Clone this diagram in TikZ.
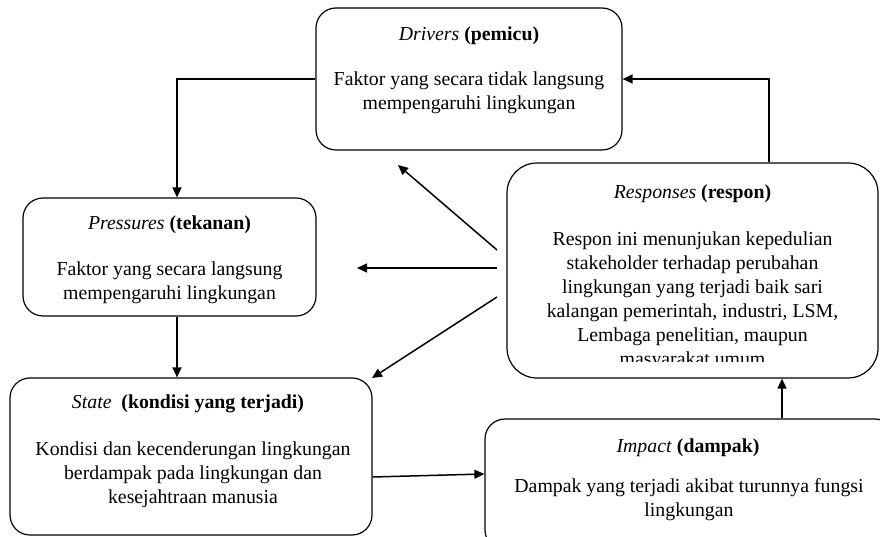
\documentclass[tikz,border=0pt]{standalone}
\usepackage{fontspec}
\setmainfont{Liberation Serif}
\usetikzlibrary{arrows.meta}
\begin{document}
\begin{tikzpicture}[x=1pt,y=1pt,
  box/.style={draw, line width=1.2pt, rounded corners=20pt, inner sep=0pt},
  txt/.style={font=\fontsize{19.8}{23.9}\selectfont, align=center, inner sep=0pt, anchor=north},
  ttl/.style={font=\fontsize{19.8}{23.9}\selectfont, inner sep=0pt, anchor=base},
  arr/.style={line width=1.5pt, -{Triangle[length=10pt,width=9pt]}}]
\useasboundingbox (0,0) rectangle (880,537);
% boxes
\node[box, minimum width=306pt, minimum height=142pt] (drivers) at (469,458) {};
\node[box, minimum width=293pt, minimum height=118pt] (pressures) at (169.5,280) {};
\node[box, minimum width=362pt, minimum height=157pt] (state) at (191,80.5) {};
\node[box, rounded corners=30pt, minimum width=371pt, minimum height=215pt] (responses) at (692.5,266.5) {};
\node[box, minimum width=410pt, minimum height=131pt] (impact) at (690,52.5) {};
% texts
\node[ttl] (drivT) at (469,496) {\textit{Drivers} \textbf{(pemicu)}};
\node[txt] (drivB) at (469,465) {Faktor yang secara tidak langsung\\mempengaruhi lingkungan};
\node[ttl] (presT) at (169.5,307) {\textit{Pressures} \textbf{(tekanan)}};
\node[txt] (presB) at (169.5,275) {Faktor yang secara langsung\\mempengaruhi lingkungan};
\node[ttl] (stateT) at (188,128) {\textit{State}\ \ \textbf{(kondisi yang terjadi)}};
\node[txt] (stateB) at (193,95) {Kondisi dan kecenderungan lingkungan\\berdampak pada lingkungan dan\\kesejahtraan manusia};
\node[ttl] (respT) at (692.5,338) {\textit{Responses} \textbf{(respon)}};
\begin{scope}
\clip (507,175) rectangle (878,374);
\node[txt] (respB) at (692.5,305) {Respon ini menunjukan kepedulian\\stakeholder terhadap perubahan\\lingkungan yang terjadi baik sari\\kalangan pemerintah, industri, LSM,\\Lembaga penelitian, maupun\\masyarakat umum};
\end{scope}
\node[ttl] (impT) at (688,84) {\textit{Impact} \textbf{(dampak)}};
\node[txt] (impB) at (689,59) {Dampak yang terjadi akibat turunnya fungsi\\lingkungan};
% free ends
\coordinate (r1) at (497,287);
\coordinate (r2) at (497,269);
\coordinate (r3) at (497,240);
\coordinate (e1) at (398,372);
\coordinate (e2) at (357,269);
\coordinate (e3) at (372,159);
% connectors
\draw[arr] (drivers.west) -| ([xshift=7.5pt]pressures.north);
\draw[arr] ([xshift=76.5pt]responses.north) |- (drivers.east);
\draw[arr] (r1) -- (e1);
\draw[arr] (r2) -- (e2);
\draw[arr] (r3) -- (e3);
\draw[arr] ([xshift=7.5pt]pressures.south) -- ([xshift=-14pt]state.north);
\draw[arr] ([yshift=-20.5pt]state.east) -- ([yshift=10.5pt]impact.west);
\draw[arr] ([xshift=92pt]impact.north) -- ([xshift=89.5pt]responses.south);
\end{tikzpicture}
\end{document}
